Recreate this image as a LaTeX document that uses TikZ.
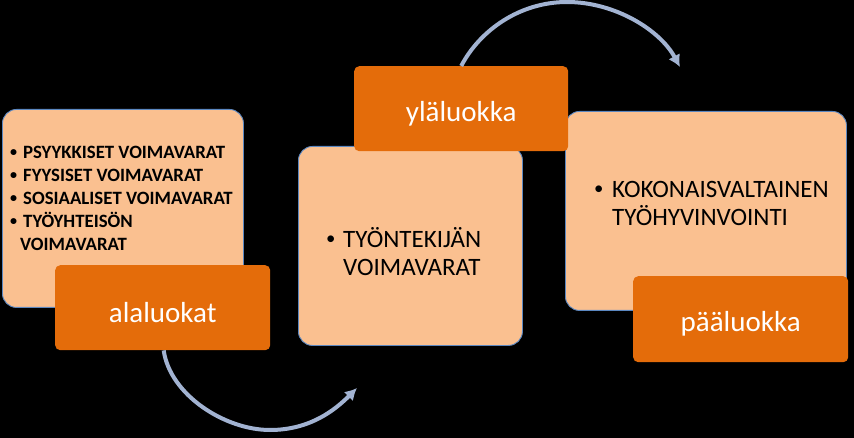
\documentclass[tikz,border=0pt]{standalone}
\usepackage{fontspec}
\setmainfont{Carlito}
\usetikzlibrary{arrows.meta,positioning}
\definecolor{Peach}{HTML}{FAC090}
\definecolor{Rust}{HTML}{E46C0A}
\definecolor{Edge}{HTML}{5B87C0}
\definecolor{Steel}{HTML}{A2B3D2}
\newcommand{\itemdot}[1]{\makebox[#1][l]{\raisebox{0.1em}{\scalebox{0.75}{•}}}}

\begin{document}
\begin{tikzpicture}[x=1pt, y=-1pt,
      >=Latex,
      card/.style={draw=Edge, line width=0.9pt, rounded corners=14pt, fill=Peach,
                   anchor=north west, inner sep=0pt},
      tag/.style={fill=Rust, rounded corners=5pt, anchor=north west, inner sep=0pt},
      tagtext/.style={text=white, font=\fontsize{29}{33}\selectfont},
      cardtext/.style={anchor=north west, inner sep=0pt, align=left, text=black,
                       font=\fontsize{25}{28}\selectfont},
      smalltext/.style={cardtext, font=\fontsize{18.8}{23}\bfseries\selectfont},
      flow/.style={line width=4pt, Steel, arrows={-Latex[length=12pt,width=13pt]}}
    ]
      % background
      \fill[black] (0,0) rectangle (854,438);
      \useasboundingbox (0,0) rectangle (854,438);

      % cards
      \node[card, minimum width=241pt, minimum height=198pt] (sub) at (2,109) {};
      \node[card, minimum width=224pt, minimum height=199pt] (mid) at (298,146) {};
      \node[card, minimum width=281pt, minimum height=199pt] (main) at (565,111) {};

      % card texts
      \node[smalltext] (subtxt) at (10,146)
        {\itemdot{13pt}PSYYKKISET VOIMAVARAT\\
         \itemdot{13pt}FYYSISET VOIMAVARAT\\
         \itemdot{13pt}SOSIAALISET VOIMAVARAT\\
         \itemdot{13pt}TYÖYHTEISÖN\\
         \hspace*{10pt}VOIMAVARAT};
      \node[cardtext] (midtxt) at (326,227)
        {\itemdot{17pt}TYÖNTEKIJÄN\\
         \hspace*{17pt}VOIMAVARAT};
      \node[cardtext] (maintxt) at (594,181)
        {\itemdot{18pt}KOKONAISVALTAINEN\\
         \hspace*{18pt}TYÖHYVINVOINTI};

      % tags
      \node[tag, minimum width=215pt, minimum height=85pt] (subtag) at (55,265) {};
      \node[tag, minimum width=214pt, minimum height=85pt] (midtag) at (354,66) {};
      \node[tag, minimum width=215pt, minimum height=86pt] (maintag) at (633,276) {};
      \node[tagtext] (sublbl) at ([yshift=-5pt]subtag.center) {alaluokat};
      \node[tagtext] (midlbl) at ([yshift=-5pt]midtag.center) {yläluokka};
      \node[tagtext] (mainlbl) at ([yshift=-5pt]maintag.center) {pääluokka};

      % arrows
      \coordinate (midin) at (357,388);
      \coordinate (mainin) at (680,67);
      \draw[flow] ([xshift=1pt]subtag.south) .. controls (170,395) and (225,430) .. (270,430)
        .. controls (310,430) and (335,410) .. (midin);
      \draw[flow] (midtag.north) .. controls (480,30) and (520,2) .. (567,2)
        .. controls (615,2) and (660,30) .. (mainin);
    \end{tikzpicture}
\end{document}
